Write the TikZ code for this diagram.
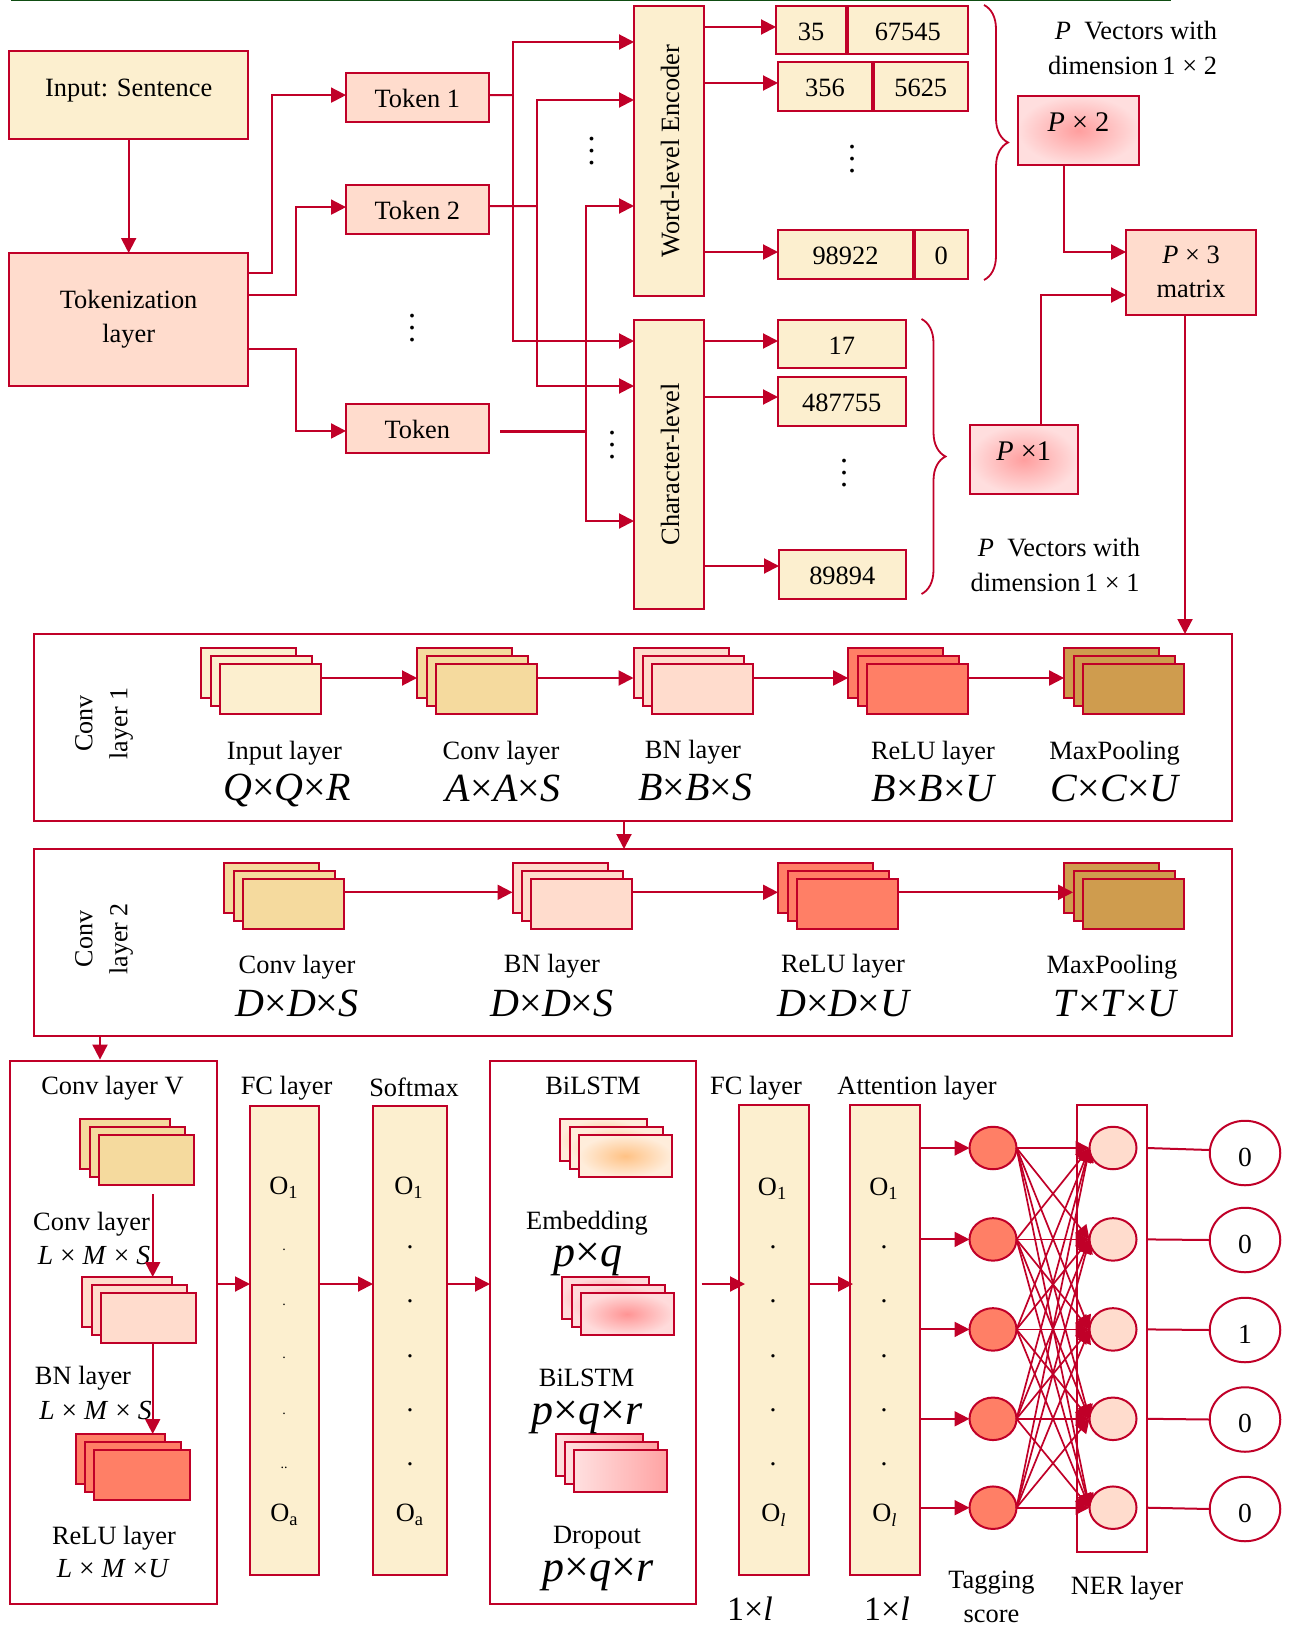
\documentclass[tikz,border=0pt]{standalone}
\usepackage{fontspec}
\setmainfont{Liberation Serif}
\usetikzlibrary{arrows.meta,positioning,calc,shapes.geometric,decorations.pathreplacing}

\definecolor{rline}{HTML}{C00028}
\definecolor{creamfill}{HTML}{FCEFCF}
\definecolor{pinkfill}{HTML}{FFDCCD}
\definecolor{sandfill}{HTML}{F5DA9E}
\definecolor{coralfill}{HTML}{FF7F66}
\definecolor{brownfill}{HTML}{CF9C4E}
\definecolor{topgreen}{HTML}{0F4D12}

\tikzset{
    lbl/.style={font=\fontsize{13.2}{17}\selectfont, inner sep=0pt, align=center, yshift=-1pt},
    dotlbl/.style={font=\fontsize{13.8}{17}\selectfont, inner sep=0pt},
    sidelbl/.style={font=\fontsize{13}{17.5}\selectfont, inner sep=0pt, align=center, rotate=90},
    dimlbl/.style={font=\fontsize{20}{22}\selectfont\itshape, inner sep=0pt},
    pqlbl/.style={font=\fontsize{22}{24}\selectfont\itshape, inner sep=0pt},
    onelbl/.style={font=\fontsize{17}{20}\selectfont\itshape, inner sep=0pt},
    smalldim/.style={font=\fontsize{13.8}{17}\selectfont\itshape, inner sep=0pt},
    frame/.style={draw=rline, line width=1pt, inner sep=0pt, outer sep=0pt, align=center, font=\fontsize{13.2}{17}\selectfont},
    creambox/.style={frame, fill=creamfill},
    pinkbox/.style={frame, fill=pinkfill},
    sink/.style={text height=10pt, text depth=0pt},
    lift/.style={text height=9.5pt, text depth=8.1pt},
    glowbox/.style={frame, inner color=red!38!white, outer color=red!13!white, font=\fontsize{14.2}{17}\selectfont},
    layer/.style={draw=rline, line width=1pt, inner sep=0pt, outer sep=0pt, anchor=north west},
    sandglow/.style={inner color=orange!48!white, outer color=orange!14!white},
    pinkglow/.style={inner color=red!42!white, outer color=red!14!white},
    sideglow/.style={left color=red!12!white, right color=red!36!white},
    flow/.style={draw=rline, line width=1pt, -{Triangle[length=7.5pt,width=7.5pt]}},
    wire/.style={draw=rline, line width=1pt},
    netflow/.style={draw=rline, line width=0.85pt, -{Triangle[length=7pt,width=7pt]}},
    bracket/.style={draw=rline, line width=0.9pt, decorate, decoration={brace, amplitude=12pt}},
    tagdot/.style={draw=rline, line width=1pt, ellipse, fill=coralfill, minimum width=23.5pt, minimum height=21.25pt, inner sep=0pt, outer sep=0pt},
    nerdot/.style={tagdot, fill=pinkfill},
    outdot/.style={draw=rline, line width=1pt, ellipse, minimum width=35.25pt, minimum height=32.25pt, inner sep=0pt, outer sep=0pt, text height=13pt, text depth=0pt, font=\fontsize{13.8}{17}\selectfont}
}

\newcommand{\by}{\textup{×}}
\newcommand{\vdotstack}{\vbox{\fontsize{16}{6}\selectfont\baselineskip6pt\lineskiplimit0pt\hbox{.}\hbox{.}\hbox{.}}}
% name, left of front sheet, top of front sheet, width, height, fill
\newcommand{\layerstack}[6]{
    \node[layer, #6, minimum width={(#4-8)*0.5pt}, minimum height={(#5-2)*0.5pt}] (#1back) at (#2-17.5,#3-15) {};
    \node[layer, #6, minimum width={(#4-2)*0.5pt}, minimum height={(#5-2)*0.5pt}] (#1mid) at (#2-8,#3-7) {};
    \node[layer, #6, minimum width={(#4-2)*0.5pt}, minimum height={(#5-2)*0.5pt}] (#1) at (#2+1,#3+1) {};
}

\begin{document}
\begin{tikzpicture}[x=0.5pt, y=-0.5pt]
    \useasboundingbox (0,0) rectangle (1293,1627);
    \draw[draw=topgreen, line width=0.6pt] (11,0.5) -- (1171,0.5);

    % Sentence to tokens
    \node[creambox, text height=9pt, text depth=7.2pt, minimum width=119.4pt, minimum height=44.1pt] (input) at (128.65,95) {Input: Sentence};
    \node[pinkbox, minimum width=119.4pt, minimum height=66.25pt] (tokenize) at (128.65,319.25) {Tokenization\\layer};
    \node[pinkbox, sink, minimum width=71.3pt, minimum height=24.5pt] (token1) at (417.3,97.5) {Token 1};
    \node[pinkbox, sink, minimum width=71.3pt, minimum height=24.5pt] (token2) at (417.3,209.5) {Token 2};
    \node[pinkbox, sink, minimum width=71.3pt, minimum height=24.5pt] (token3) at (417.3,428.75) {Token};
    \node[dotlbl] (tokendots) at (412,328) {\vdotstack};

    \draw[flow] (input.south) -- (tokenize.north);
    \draw[flow] (tokenize.east |- 0,273) -- ++(24,0) |- ([yshift=1.2pt]token1.west);
    \draw[flow] (tokenize.east |- 0,294.5) -- ++(48,0) |- ([yshift=1.2pt]token2.west);
    \draw[flow] (tokenize.east |- 0,348.6) -- ++(48,0) |- ([yshift=-1.1pt]token3.west);

    % Encoders
    \node[creambox, sink, rotate=90, minimum width=145pt, minimum height=35pt] (wordenc) at (669,151) {Word-level Encoder};
    \node[creambox, sink, rotate=90, minimum width=144.5pt, minimum height=35pt] (charenc) at (669,464.5) {Character-level};
    \node[dotlbl] (worddots) at (591.6,151) {\vdotstack};
    \node[dotlbl] (chardots) at (612,445.5) {\vdotstack};

    \coordinate (bus1) at (513,95);
    \coordinate (bus2) at (537,206);
    \coordinate (bus3) at (586,431);
    \coordinate (token3out) at (500.4,431);
    \draw[wire] ([yshift=1.2pt]token1.east) -- (bus1);
    \draw[wire] ([yshift=1.7pt]token2.east) -- (bus2);
    \draw[wire, line width=1.5pt] (token3out) -- (bus3);
    \draw[flow] (bus1) |- (wordenc.north |- 0,42);
    \draw[flow] (bus1) |- (charenc.north |- 0,341);
    \draw[flow] (bus2) |- (wordenc.north |- 0,100);
    \draw[flow] (bus2) |- (charenc.north |- 0,386);
    \draw[flow] (bus3) |- (wordenc.north |- 0,206);
    \draw[flow] (bus3) |- (charenc.north |- 0,521);

    % Encoded vectors
    \node[creambox, sink, minimum width=35pt, minimum height=24.25pt] (row1a) at (811,30.25) {35};
    \node[creambox, sink, minimum width=60.25pt, minimum height=24.25pt] (row1b) at (907.75,30.25) {67545};
    \node[creambox, sink, minimum width=47pt, minimum height=24.25pt] (row2a) at (825,86.5) {356};
    \node[creambox, sink, minimum width=47.25pt, minimum height=24.25pt] (row2b) at (920.75,86.5) {5625};
    \node[creambox, sink, minimum width=67.5pt, minimum height=24.25pt] (row3a) at (845.5,254.5) {98922};
    \node[creambox, sink, minimum width=26.75pt, minimum height=24.25pt] (row3b) at (941.25,254.5) {0};
    \node[creambox, sink, minimum width=63.75pt, minimum height=24.25pt] (row4) at (841.75,344) {17};
    \node[creambox, sink, minimum width=63.75pt, minimum height=24.25pt] (row5) at (841.75,401.5) {487755};
    \node[creambox, sink, minimum width=63.25pt, minimum height=24.25pt] (row6) at (842.25,574.5) {89894};
    \node[dotlbl] (rowdots1) at (852,159.5) {\vdotstack};
    \node[dotlbl] (rowdots2) at (844,473.5) {\vdotstack};

    \draw[flow] (wordenc.south |- 0,27) -- (row1a.west |- 0,27);
    \draw[flow] (wordenc.south |- 0,83) -- (row2a.west |- 0,83);
    \draw[flow] (wordenc.south |- 0,252) -- (row3a.west |- 0,252);
    \draw[flow] (charenc.south |- 0,341) -- (row4.west |- 0,341);
    \draw[flow] (charenc.south |- 0,397) -- (row5.west |- 0,397);
    \draw[flow] (charenc.south |- 0,566) -- (row6.west |- 0,566);

    \draw[bracket] (984,5) -- (984,280);
    \draw[bracket] (921.5,319) -- (921.5,594);

    % Matrices
    \node[lbl] (vecwordtop) at (1136,29) {\textit{P}\ \ Vectors with};
    \node[lbl] (vecwordbot) at (1132.5,63) {dimension\,1 × 2};
    \node[lbl] (veccharbot) at (1055,580) {dimension\,1 × 1};
    \node[lbl] (vecchartop) at (1059,546) {\textit{P}\ \ Vectors with};
    \node[glowbox, lift, minimum width=60.5pt, minimum height=34.5pt] (pxtwo) at (1078.5,130.5) {\textit{P} × 2};
    \node[pinkbox, minimum width=65pt, minimum height=42.25pt] (pxthree) at (1191,272.25) {\textit{P} × 3\\matrix};
    \node[glowbox, lift, minimum width=53.8pt, minimum height=34.5pt] (pxone) at (1023.8,459.5) {\textit{P} ×1};

    \draw[flow] (1064,0 |- pxtwo.south) |- (pxthree.west |- 0,252);
    \draw[flow] (1041,0 |- pxone.north) |- (pxthree.west |- 0,295);

    % First convolution block
    \node[frame, minimum width=598.75pt, minimum height=93.5pt] (convone) at (632.75,727.5) {};
    \node[sidelbl] (convonename) at (104,723.5) {Conv\\layer 1};
    \layerstack{inone}{218.5}{663}{103}{52}{fill=creamfill}
    \layerstack{cvone}{434.5}{663}{103}{52}{fill=sandfill}
    \layerstack{bnone}{651}{663}{103}{52}{fill=pinkfill}
    \layerstack{reone}{865.6}{663}{103}{52}{fill=coralfill}
    \layerstack{mpone}{1081.6}{663}{103}{52}{fill=brownfill}
    \draw[flow] (inone.east |- 0,678) -- (cvoneback.west |- 0,678);
    \draw[flow] (cvone.east |- 0,678) -- (bnoneback.west |- 0,678);
    \draw[flow] (bnone.east |- 0,678) -- (reoneback.west |- 0,678);
    \draw[flow] (reone.east |- 0,678) -- (mponeback.west |- 0,678);
    \node[lbl] (inonetxt) at (284.4,751) {Input layer};
    \node[lbl] (cvonetxt) at (501,751) {Conv layer};
    \node[lbl] (bnonetxt) at (693,750) {BN layer};
    \node[lbl] (reonetxt) at (933,751) {ReLU layer};
    \node[lbl] (mponetxt) at (1114.6,751) {MaxPooling};
    \node[dimlbl] (inonedim) at (287,790) {Q\by Q\by R};
    \node[dimlbl] (cvonedim) at (503,788) {A\by A\by S};
    \node[dimlbl] (bnonedim) at (695,787) {B\by B\by S};
    \node[dimlbl] (reonedim) at (933,789) {B\by B\by U};
    \node[dimlbl] (mponedim) at (1114.6,788) {C\by C\by U};

    % Second convolution block
    \node[frame, minimum width=598.75pt, minimum height=93.35pt] (convtwo) at (632.75,942.35) {};
    \node[sidelbl] (convtwoname) at (104,939) {Conv\\layer 2};
    \layerstack{cvtwo}{241.5}{877.7}{103}{52}{fill=sandfill}
    \layerstack{bntwo}{530}{877.7}{103}{52}{fill=pinkfill}
    \layerstack{retwo}{795.5}{877.7}{103}{52}{fill=coralfill}
    \layerstack{mptwo}{1081.6}{877.7}{103}{52}{fill=brownfill}
    \draw[flow] (cvtwo.east |- 0,892.3) -- (bntwoback.west |- 0,892.3);
    \draw[flow] (bntwo.east |- 0,892.3) -- (retwoback.west |- 0,892.3);
    \draw[flow, shorten >=-4.5pt] (retwo.east |- 0,892.3) -- (mptwoback.west |- 0,892.3);
    \node[lbl] (cvtwotxt) at (297,965) {Conv layer};
    \node[lbl] (bntwotxt) at (552,964) {BN layer};
    \node[lbl] (retwotxt) at (843,964) {ReLU layer};
    \node[lbl] (mptwotxt) at (1112,965) {MaxPooling};
    \node[dimlbl] (cvtwodim) at (297,1003) {D\by D\by S};
    \node[dimlbl] (bntwodim) at (552,1003) {D\by D\by S};
    \node[dimlbl] (retwodim) at (843,1004) {D\by D\by U};
    \node[dimlbl] (mptwodim) at (1115,1004) {T\by T\by U};

    \draw[flow] (1185,0 |- pxthree.south) -- (1185,0 |- convone.north);
    \draw[flow] (624,0 |- convone.south) -- (624,0 |- convtwo.north);
    \draw[flow] (100,0 |- convtwo.south) -- (100,0 |- 0,1059.6);

    % Conv layer V column
    \node[frame, minimum width=103.5pt, minimum height=271.7pt] (convv) at (113.5,1332.3) {};
    \node[lbl] (convvname) at (112.5,1086) {Conv layer V};
    \layerstack{cvv}{97.8}{1134}{97.4}{52}{fill=sandfill}
    \layerstack{bnv}{99.6}{1292}{97.4}{52}{fill=pinkfill}
    \layerstack{rev}{93.3}{1449}{97.4}{52}{fill=coralfill}
    \node[lbl] (cvvtxt) at (91.5,1222) {Conv layer};
    \node[smalldim] (cvvdim) at (94,1255) {L \by{} M \by{} S};
    \node[lbl] (bnvtxt) at (83,1376) {BN layer};
    \node[smalldim] (bnvdim) at (95.5,1410) {L \by{} M \by{} S};
    \node[lbl] (revtxt) at (114,1536) {ReLU layer};
    \node[smalldim] (revdim) at (112.5,1569) {L \by{} M \by U};
    \coordinate (cvvout) at (152.7,1194);
    \draw[flow] (cvvout) -- (cvvout |- bnvback.north);
    \draw[flow] (cvvout |- bnv.south) -- (cvvout |- revback.north);

    % Fully connected columns
    \node[creambox, minimum width=34.5pt, minimum height=234.75pt] (fcone) at (284.5,1340.25) {};
    \node[lbl] (fconename) at (286.6,1086) {FC layer};
    \node[lbl] (fconetop) at (284,1186) {O\textsubscript{1}};
    \node[dotlbl, font=\fontsize{7}{8}\selectfont] (fconedot1) at (284,1250) {.};
    \node[dotlbl, font=\fontsize{7}{8}\selectfont] (fconedot2) at (284,1305) {.};
    \node[dotlbl, font=\fontsize{7}{8}\selectfont] (fconedot3) at (284,1358) {.};
    \node[dotlbl, font=\fontsize{7}{8}\selectfont] (fconedot4) at (284,1413.6) {.};
    \node[dotlbl, font=\fontsize{7}{8}\selectfont] (fconedot5) at (284,1468) {..};
    \node[lbl] (fconeend) at (284.5,1513) {O\textsubscript{a}};

    \node[creambox, minimum width=37pt, minimum height=234.75pt] (softmax) at (410,1340.25) {};
    \node[lbl] (softmaxname) at (414,1085) {Softmax};
    \node[lbl] (softmaxtop) at (409,1186) {O\textsubscript{1}};
    \node[dotlbl] (softmaxdot1) at (410,1247.6) {.};
    \node[dotlbl] (softmaxdot2) at (410,1301) {.};
    \node[dotlbl] (softmaxdot3) at (410,1356.6) {.};
    \node[dotlbl] (softmaxdot4) at (410,1410.7) {.};
    \node[dotlbl] (softmaxdot5) at (410,1464.4) {.};
    \node[lbl] (softmaxend) at (410,1513) {O\textsubscript{a}};

    % BiLSTM column
    \node[frame, minimum width=103pt, minimum height=271.7pt] (bilstm) at (593,1332.3) {};
    \node[lbl] (bilstmname) at (593,1084) {BiLSTM};
    \layerstack{emb}{577.7}{1134}{95}{44}{sandglow}
    \layerstack{lstm}{579.5}{1292}{95}{44}{pinkglow}
    \layerstack{drop}{573}{1449}{95}{44}{sideglow}
    \node[lbl] (embtxt) at (587,1221.5) {Embedding};
    \node[pqlbl] (embdim) at (588,1259) {p\by q};
    \node[lbl] (lstmtxt) at (586.6,1376) {BiLSTM};
    \node[pqlbl] (lstmdim) at (587,1417.5) {p\by q\by r};
    \node[lbl] (droptxt) at (597,1536) {Dropout};
    \node[pqlbl] (dropdim) at (598,1574) {p\by q\by r};

    \node[creambox, minimum width=35pt, minimum height=235pt] (fctwo) at (774,1340) {};
    \node[lbl] (fctwoname) at (756,1086) {FC layer};
    \node[lbl] (fctwotop) at (772.6,1186.6) {O\textsubscript{1}};
    \node[dotlbl] (fctwodot1) at (773,1247) {.};
    \node[dotlbl] (fctwodot2) at (773,1301) {.};
    \node[dotlbl] (fctwodot3) at (773,1356.6) {.};
    \node[dotlbl] (fctwodot4) at (773,1410) {.};
    \node[dotlbl] (fctwodot5) at (773,1464) {.};
    \node[lbl] (fctwoend) at (774,1513) {O\textsubscript{\textit{l}}};
    \node[onelbl] (fctwodim) at (750,1609) {\textup{1}\by l};

    \node[creambox, minimum width=35pt, minimum height=235pt] (attention) at (885,1340) {};
    \node[lbl] (attentionname) at (917,1086) {Attention layer};
    \node[lbl] (attentiontop) at (884,1186.6) {O\textsubscript{1}};
    \node[dotlbl] (attentiondot1) at (884,1247) {.};
    \node[dotlbl] (attentiondot2) at (884,1301) {.};
    \node[dotlbl] (attentiondot3) at (884,1356.6) {.};
    \node[dotlbl] (attentiondot4) at (884,1410) {.};
    \node[dotlbl] (attentiondot5) at (884,1464) {.};
    \node[lbl] (attentionend) at (885,1513) {O\textsubscript{\textit{l}}};
    \node[onelbl] (attentiondim) at (887,1609) {\textup{1}\by l};

    \coordinate (fctwoin) at (701.5,1284);
    \draw[flow] (convv.east |- 0,1284) -- (fcone.west |- 0,1284);
    \draw[flow] (fcone.east |- 0,1284) -- (softmax.west |- 0,1284);
    \draw[flow] (softmax.east |- 0,1284) -- (bilstm.west |- 0,1284);
    \draw[flow, shorten >=-3pt] (fctwoin) -- (fctwoin -| fctwo.west);
    \draw[flow, shorten >=-1.5pt] (fctwo.east |- fctwoin) -- (attention.west |- fctwoin);

    % Tagging score and NER layer
    \node[frame, minimum width=34.8pt, minimum height=223.5pt] (nerbox) at (1112.2,1328.5) {};
    \node[tagdot] (tag1) at (993,1148) {};
    \node[tagdot] (tag2) at (993,1239.4) {};
    \node[tagdot] (tag3) at (993,1329.4) {};
    \node[tagdot] (tag4) at (993,1418.8) {};
    \node[tagdot] (tag5) at (993,1507.7) {};
    \node[nerdot] (ner1) at (1113,1148) {};
    \node[nerdot] (ner2) at (1113,1239.4) {};
    \node[nerdot] (ner3) at (1113,1329.4) {};
    \node[nerdot] (ner4) at (1113,1418.8) {};
    \node[nerdot] (ner5) at (1113,1507.7) {};
    \node[outdot] (out1) at (1245,1153) {0};
    \node[outdot] (out2) at (1245,1240) {0};
    \node[outdot] (out3) at (1245,1330) {1};
    \node[outdot] (out4) at (1245,1419.5) {0};
    \node[outdot] (out5) at (1245,1509) {0};
    \node[lbl] (tagname) at (991.4,1595) {Tagging\\score};
    \node[lbl] (nername) at (1127,1586) {NER layer};

    \draw[flow] (attention.east |- tag1) -- (tag1.west);
    \draw[flow] (attention.east |- tag2) -- (tag2.west);
    \draw[flow] (attention.east |- tag3) -- (tag3.west);
    \draw[flow] (attention.east |- tag4) -- (tag4.west);
    \draw[flow] (attention.east |- tag5) -- (tag5.west);
    \foreach \i in {1,...,5}
        \foreach \j in {1,...,5}
            \draw[netflow] (tag\i.east) -- (ner\j.west);
    \draw[wire] (nerbox.east |- ner1) -- ([yshift=1.5pt]out1.west);
    \draw[wire] (nerbox.east |- ner2) -- (out2.west);
    \draw[wire] (nerbox.east |- ner3) -- (out3.west);
    \draw[wire] (nerbox.east |- ner4) -- (out4.west);
    \draw[wire] (nerbox.east |- ner5) -- (out5.west);
\end{tikzpicture}
\end{document}
